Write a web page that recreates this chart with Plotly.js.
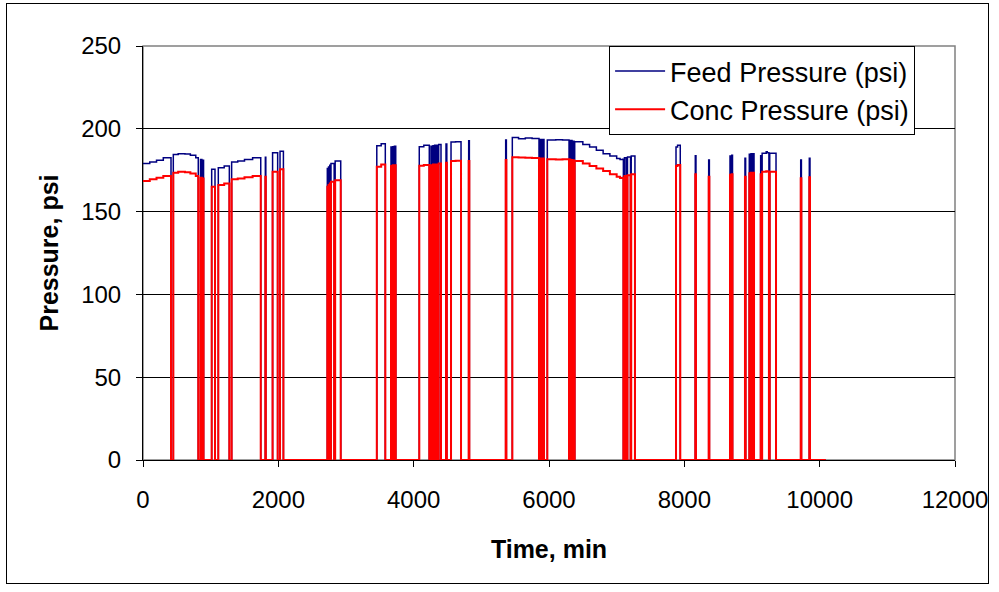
<!DOCTYPE html>
<html>
<head>
<meta charset="utf-8">
<script src="https://cdn.plot.ly/plotly-3.0.1.min.js"></script>
<style>
  html, body { margin: 0; padding: 0; background: #fff; }
  #wrap { position: relative; width: 999px; height: 592px; }
  #frame { position: absolute; left: 6px; top: 3px; width: 983px; height: 581px; border: 1px solid #000; box-sizing: border-box; pointer-events: none; z-index: 5; }
  #chart { position: absolute; left: 0; top: 0; width: 999px; height: 592px; }
</style>
</head>
<body>
<div id="wrap">
  <div id="chart"></div>
  <div id="frame"></div>
</div>
<script>
// Time (min) at which each recorded level starts (step-wise, held until next point)
const timeMin = [
  0, 100, 200, 300, 414, 448, 520, 620, 700, 780, 817, 850, 870, 885, 895,
  1015, 1064,
  1113, 1200, 1276, 1310, 1400, 1500, 1620, 1740,
  1808, 1815,
  1915, 1990, 2025, 2075,
  2724, 2732, 2742, 2750, 2760, 2768, 2778, 2825, 2840, 2922,
  3455, 3520, 3581,
  3665, 3675, 3690, 3700, 3715, 3735,
  4083, 4150, 4231,
  4256, 4270, 4285, 4300, 4310, 4330, 4340, 4360, 4370, 4404,
  4478, 4490,
  4552, 4620, 4700,
  4813, 4823,
  5360, 5370,
  5458, 5550, 5650, 5750, 5852,
  5865, 5875, 5890, 5900, 5912, 5926,
  5975, 6100, 6200, 6296,
  6305, 6315, 6330, 6340, 6355, 6370,
  6380, 6500, 6600, 6700, 6800, 6900, 7000, 7050, 7090, 7099,
  7115, 7140, 7160, 7205, 7215, 7270,
  7877, 7900, 7940,
  8162, 8172,
  8360, 8370,
  8675, 8685, 8700, 8712,
  8896, 8906,
  8960, 8972, 8985, 8995, 9010, 9030,
  9128, 9138, 9150, 9210, 9225, 9250, 9262, 9355,
  9720, 9730,
  9847, 9857,
  10090
];

const feedPsi = [
  179, 180, 181, 182.5, 0, 184.5, 185, 184.8, 184, 182.5, 0, 181.5, 0, 181, 0,
  175.5, 0,
  176.5, 177.5, 0, 180, 180.5, 181.5, 182.5, 0,
  182.8, 0,
  185.5, 0, 186.5, 0,
  176, 0, 177, 0, 178, 0, 179, 0, 180.5, 0,
  189.8, 191, 0,
  189, 0, 189.2, 0, 189.5, 0,
  189.2, 190, 0,
  189.5, 0, 189.8, 0, 190, 0, 190, 0, 190.5, 0,
  190.8, 0,
  192, 192.2, 0,
  192.8, 0,
  193.2, 0,
  194.8, 194, 194.5, 194.2, 0,
  193.5, 0, 193.5, 0, 193.5, 0,
  193.2, 193.4, 193.2, 0,
  193, 0, 193, 0, 192.5, 0,
  192.2, 190.5, 189, 187, 185, 183.5, 182, 181.5, 181.6, 0,
  182.5, 0, 183, 0, 183.5, 0,
  189, 190, 0,
  183.8, 0,
  181.2, 0,
  183.5, 0, 184, 0,
  182.2, 0,
  184.6, 0, 185, 0, 185, 0,
  183.8, 0, 185.2, 186.2, 185.5, 0, 185.2, 0,
  181.2, 0,
  182.2, 0,
  0
];

const concPsi = [
  168.5, 169.5, 170.5, 171.5, 0, 173.5, 174, 173.8, 173, 171.5, 0, 170.5, 0, 170, 0,
  165, 0,
  166, 167, 0, 169.5, 170, 170.8, 171.5, 0,
  171, 0,
  174, 0, 175.5, 0,
  165, 0, 166, 0, 167, 0, 168, 0, 169, 0,
  177.1, 178.5, 0,
  177.5, 0, 178, 0, 178, 0,
  177.7, 178.2, 0,
  178, 0, 178.5, 0, 178.5, 0, 178.5, 0, 179, 0,
  179.5, 0,
  180.5, 180.7, 0,
  180.6, 0,
  181.2, 0,
  182.8, 182.6, 182.5, 182.3, 0,
  182, 0, 182, 0, 182, 0,
  181.6, 181.4, 181.6, 0,
  181.4, 0, 181.2, 0, 181, 0,
  180.6, 179, 177.5, 176, 174.5, 172.5, 171, 170.3, 170.5, 0,
  171.5, 0, 172, 0, 172.5, 0,
  177.5, 178.2, 0,
  172.5, 0,
  171.1, 0,
  172.2, 0, 172.5, 0,
  171.1, 0,
  173.1, 0, 173.5, 0, 173.5, 0,
  172.5, 0, 174, 174.3, 174.2, 0, 174, 0,
  170.1, 0,
  170.8, 0,
  0
];

const xTicks = [0, 2000, 4000, 6000, 8000, 10000, 12000];
const yTicks = [0, 50, 100, 150, 200, 250];

const fontFam = 'Arial, "Liberation Sans", sans-serif';

const traces = [
  {
    x: timeMin, y: feedPsi, type: 'scatter', mode: 'lines',
    name: 'Feed Pressure (psi)',
    line: { color: '#000080', width: 1.5, shape: 'hv' }
  },
  {
    x: timeMin, y: concPsi, type: 'scatter', mode: 'lines',
    name: 'Conc Pressure (psi)',
    line: { color: '#FF0000', width: 2, shape: 'hv' }
  }
];

const layout = {
  width: 999, height: 592,
  margin: { l: 143, r: 44, t: 46, b: 132 },
  paper_bgcolor: '#ffffff', plot_bgcolor: '#ffffff',
  font: { family: fontFam, color: '#000', size: 24 },
  showlegend: true,
  legend: {
    x: 0.574, y: 1, xanchor: 'left', yanchor: 'top',
    bgcolor: '#ffffff', bordercolor: '#000', borderwidth: 1,
    font: { family: fontFam, size: 27, color: '#000' },
    itemwidth: 50,
    tracegroupgap: 0
  },
  xaxis: {
    range: [0, 12000], tickvals: xTicks, ticktext: xTicks.map(String),
    ticks: 'outside', ticklen: 6, tickcolor: '#000', tickwidth: 1,
    ticklabelstandoff: 12,
    showline: true, linecolor: '#000', linewidth: 1,
    showgrid: false, zeroline: false, layer: 'below traces',
    tickfont: { family: fontFam, size: 24, color: '#000' },
    title: { text: '<b>Time, min</b>', font: { family: fontFam, size: 25, color: '#000' }, standoff: 28 }
  },
  yaxis: {
    range: [0, 250], tickvals: yTicks, ticktext: yTicks.map(String),
    ticks: 'outside', ticklen: 6, tickcolor: '#000', tickwidth: 1,
    ticklabelstandoff: 10,
    showline: true, linecolor: '#000', linewidth: 1,
    showgrid: true, gridcolor: '#000', gridwidth: 1,
    zeroline: false, layer: 'below traces',
    tickfont: { family: fontFam, size: 24, color: '#000' },
    title: { text: '<b>Pressure, psi</b>', font: { family: fontFam, size: 25, color: '#000' }, standoff: 15 }
  },
  shapes: [
    { type: 'rect', xref: 'paper', yref: 'paper', x0: 0, x1: 1, y0: 0, y1: 1,
      line: { color: '#808080', width: 1.5 }, layer: 'below' }
  ]
};

Plotly.newPlot('chart', traces, layout, { displayModeBar: false, staticPlot: true });
</script>
</body>
</html>
